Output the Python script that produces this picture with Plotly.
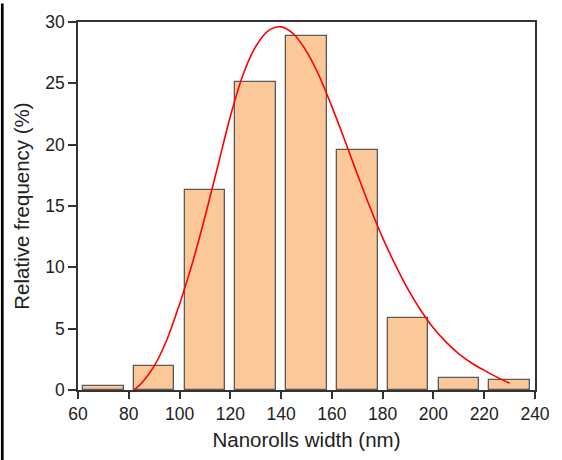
import plotly.graph_objects as go

bin_centers = [70, 90, 110, 130, 150, 170, 190, 210, 230]
rel_freq = [0.32, 1.92, 16.28, 25.08, 28.87, 19.6, 5.88, 0.96, 0.80]
bar_width = 16

fit_x = [82, 85, 90, 95, 100, 105, 110, 115, 120, 125, 130, 135, 140, 145, 150,
         155, 160, 165, 170, 175, 180, 185, 190, 195, 200, 205, 210, 215, 220,
         225, 230]
fit_y = [0.0, 0.55, 1.95, 4.1, 7.0, 10.3, 14.1, 18.2, 22.3, 25.7, 28.0, 29.3,
         29.6, 29.0, 27.6, 25.6, 23.1, 20.4, 17.6, 14.9, 12.4, 10.2, 8.2, 6.5,
         5.05, 3.9, 2.95, 2.2, 1.6, 1.05, 0.55]

x_ticks = [60, 80, 100, 120, 140, 160, 180, 200, 220, 240]
y_ticks = [0, 5, 10, 15, 20, 25, 30]

FONT = "Liberation Sans, Arial, sans-serif"
AX = "#333333"

fig = go.Figure()
fig.add_trace(go.Bar(
    x=bin_centers, y=rel_freq, width=bar_width,
    marker=dict(color="#FBC899", line=dict(color="#5a5a5a", width=1.3)),
    showlegend=False,
))
fig.add_trace(go.Scatter(
    x=fit_x, y=fit_y, mode="lines",
    line=dict(color="#FF0000", width=1.6, shape="spline", smoothing=1.0),
    showlegend=False,
))

fig.update_layout(
    width=562, height=460,
    margin=dict(l=78, r=21, t=16, b=70),
    paper_bgcolor="white", plot_bgcolor="white",
    font=dict(family=FONT, color="#222222", size=17),
    xaxis=dict(range=[60, 240], tickvals=x_ticks, ticks="outside", ticklen=7,
               tickwidth=1.5, tickcolor=AX, showline=True, linecolor=AX, linewidth=1.5,
               mirror=True, showgrid=False, zeroline=False,
               tickfont=dict(size=17.5),
               title=dict(text="Nanorolls width (nm)", font=dict(size=20.5), standoff=10)),
    yaxis=dict(range=[0, 30], tickvals=y_ticks, ticks="outside", ticklen=8,
               tickwidth=1.5, tickcolor=AX, showline=True, linecolor=AX, linewidth=1.5,
               mirror=True, showgrid=False, zeroline=False,
               tickfont=dict(size=17.5),
               title=dict(text="Relative frequency (%)", font=dict(size=20.5), standoff=10)),
    bargap=0,
)
fig.add_shape(type="line", xref="paper", yref="paper",
              x0=-0.1657, x1=-0.1657, y0=-0.2, y1=1.05,
              line=dict(color="black", width=2.7))

fig.write_html("out.html")
